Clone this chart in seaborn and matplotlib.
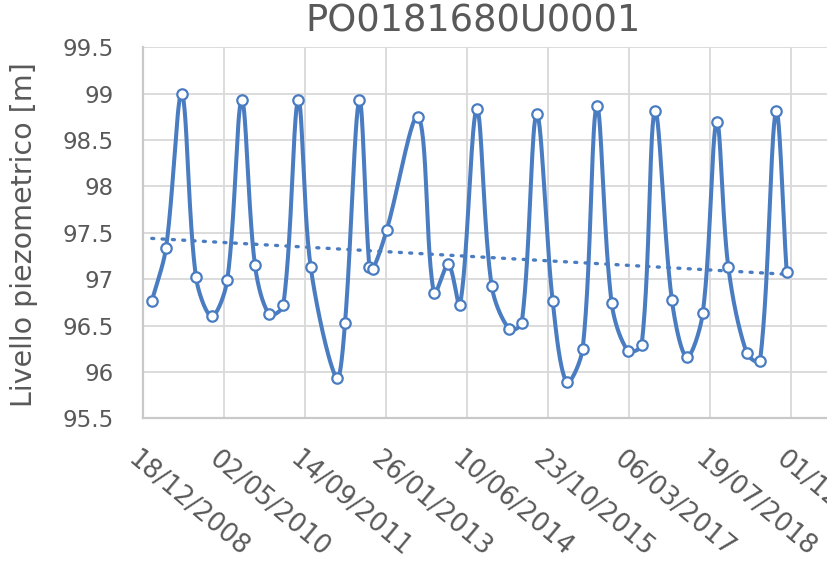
import numpy as np
import pandas as pd
import matplotlib
matplotlib.use("Agg")
import matplotlib.pyplot as plt
import matplotlib.dates as mdates
import matplotlib.transforms as mtransforms
import seaborn as sns

# ---------------- data ----------------
title = "PO0181680U0001"
y_label = "Livello piezometrico [m]"

dates = [
    "2009-02-12", "2009-05-11", "2009-08-16", "2009-11-12", "2010-02-17",
    "2010-05-24", "2010-08-21", "2010-11-11", "2011-02-07", "2011-05-05",
    "2011-08-05", "2011-10-21", "2012-03-29", "2012-05-20", "2012-08-16",
    "2012-10-17", "2012-11-09", "2013-02-01", "2013-08-15", "2013-11-20",
    "2014-02-17", "2014-04-30", "2014-08-11", "2014-11-11", "2015-02-28",
    "2015-05-16", "2015-08-16", "2015-11-23", "2016-02-17", "2016-05-26",
    "2016-08-21", "2016-11-21", "2017-02-28", "2017-05-25", "2017-08-15",
    "2017-11-27", "2018-02-27", "2018-06-06", "2018-08-31", "2018-11-11",
    "2019-03-05", "2019-05-26", "2019-09-01", "2019-11-06",
]
levels = [
    96.76, 97.34, 99.00, 97.02, 96.60,
    96.99, 98.93, 97.15, 96.62, 96.72,
    98.93, 97.13, 95.93, 96.53, 98.93,
    97.13, 97.11, 97.53, 98.75, 96.85,
    97.16, 96.72, 98.83, 96.93, 96.46,
    96.53, 98.78, 96.76, 95.89, 96.25,
    98.87, 96.74, 96.23, 96.29, 98.81,
    96.78, 96.16, 96.63, 98.70, 97.13,
    96.20, 96.12, 98.81, 97.08,
]

tick_dates = ["2008-12-18", "2010-05-02", "2011-09-14", "2013-01-26", "2014-06-10",
              "2015-10-23", "2017-03-06", "2018-07-19", "2019-12-01"]
tick_labels = ["18/12/2008", "02/05/2010", "14/09/2011", "26/01/2013", "10/06/2014",
               "23/10/2015", "06/03/2017", "19/07/2018", "01/12/2019"]
y_ticks = [95.5, 96.0, 96.5, 97.0, 97.5, 98.0, 98.5, 99.0, 99.5]
y_tick_labels = ["95.5", "96", "96.5", "97", "97.5", "98", "98.5", "99", "99.5"]

# ---------------- style ----------------
LINE = "#4a7cc2"
TEXT = "#595959"
GRID = "#d9d9d9"

sns.set_theme(style="white")
plt.rcParams["font.family"] = ["DejaVu Sans"]

x_num = mdates.date2num(pd.to_datetime(dates).to_pydatetime())
y_val = np.array(levels, dtype=float)
df = pd.DataFrame({"x": x_num, "y": y_val})

W, H = 827, 562
left_px, top_px, bottom_px = 142.7, 47.3, 418.3
days_per_px = 500.0 / 81.0
px_per_unit_y = (bottom_px - top_px) / 4.0


def smooth_curve(x, y, n=30):
    """Excel-like smoothed line: cubic Bezier through points with
    tangents scaled by neighbouring segment lengths (on screen)."""
    P = np.column_stack([x, y])
    S = np.column_stack([x / days_per_px, y * px_per_unit_y])  # screen-ish space
    n_pts = len(P)
    out = []
    t = np.linspace(0, 1, n, endpoint=False)[:, None]

    def seglen(i, j):
        return np.hypot(*(S[j] - S[i]))

    for i in range(n_pts - 1):
        i0 = max(i - 1, 0)
        i3 = min(i + 2, n_pts - 1)
        p0, p1, p2, p3 = P[i0], P[i], P[i + 1], P[i3]
        d01 = seglen(i0, i)
        d12 = seglen(i, i + 1)
        d23 = seglen(i + 1, i3)
        c1 = p1 + (p2 - p0) * d12 / (3.0 * (d01 + d12))
        c2 = p2 - (p3 - p1) * d12 / (3.0 * (d12 + d23))
        seg = ((1 - t) ** 3) * p1 + 3 * ((1 - t) ** 2) * t * c1 + 3 * (1 - t) * t ** 2 * c2 + t ** 3 * p2
        out.append(seg)
    out.append(P[-1:])
    return np.vstack(out)


curve = smooth_curve(x_num, y_val)
curve_df = pd.DataFrame({"x": curve[:, 0], "y": curve[:, 1]})

fig = plt.figure(figsize=(W / 100, H / 100), dpi=100)
ax = fig.add_axes([left_px / W, 1 - bottom_px / H, 1 - left_px / W, (bottom_px - top_px) / H])

# trend line (linear, dotted)
sns.regplot(data=df, x="x", y="y", ax=ax, scatter=False, ci=None, truncate=True,
            line_kws=dict(color=LINE, lw=2.4, linestyle=(0, (0.6, 2.5)),
                          dash_capstyle="round", zorder=3))

# smoothed line
sns.lineplot(data=curve_df, x="x", y="y", ax=ax, sort=False, estimator=None,
             color=LINE, lw=2.9, zorder=4)

# markers
ax.plot(x_num, y_val, linestyle="none", marker="o", markersize=7.5,
        markerfacecolor="white", markeredgecolor=LINE, markeredgewidth=1.6, zorder=5)

# axes limits
x0 = mdates.date2num(pd.Timestamp(tick_dates[0]).to_pydatetime())
ax.set_xlim(x0, x0 + (W - left_px) * days_per_px)
ax.set_ylim(95.5, 99.5)

# grid
ax.grid(True, color=GRID, lw=1.3)
ax.set_axisbelow(True)
for s in ["top", "right"]:
    ax.spines[s].set_visible(False)
for s in ["left", "bottom"]:
    ax.spines[s].set_color("#c9c9c9")
    ax.spines[s].set_linewidth(1.6)

# ticks
tick_nums = mdates.date2num(pd.to_datetime(tick_dates).to_pydatetime())
ax.set_xticks(tick_nums)
ax.set_xticklabels(tick_labels, rotation=-40, ha="left", va="top",
                   rotation_mode="anchor", fontsize=18.5, color=TEXT)
ax.set_yticks(y_ticks)
ax.set_yticklabels(y_tick_labels, fontsize=16.5, color=TEXT)
ax.tick_params(axis="x", length=0, pad=20)
ax.tick_params(axis="y", length=0, pad=21)
ax.set_xlabel("")
ax.set_ylabel("")

offset = mtransforms.ScaledTranslation(-0.03, 0, fig.dpi_scale_trans)
for lbl in ax.get_xticklabels():
    lbl.set_transform(lbl.get_transform() + offset)

# title and y label
fig.text(473 / W, 1 - 31 / H, title, ha="center", va="baseline",
         fontsize=26.5, color=TEXT)
fig.text(24 / W, 1 - 235 / H, y_label, ha="center", va="center",
         rotation=90, fontsize=20.5, color=TEXT)

fig.savefig("out.png", dpi=100)
